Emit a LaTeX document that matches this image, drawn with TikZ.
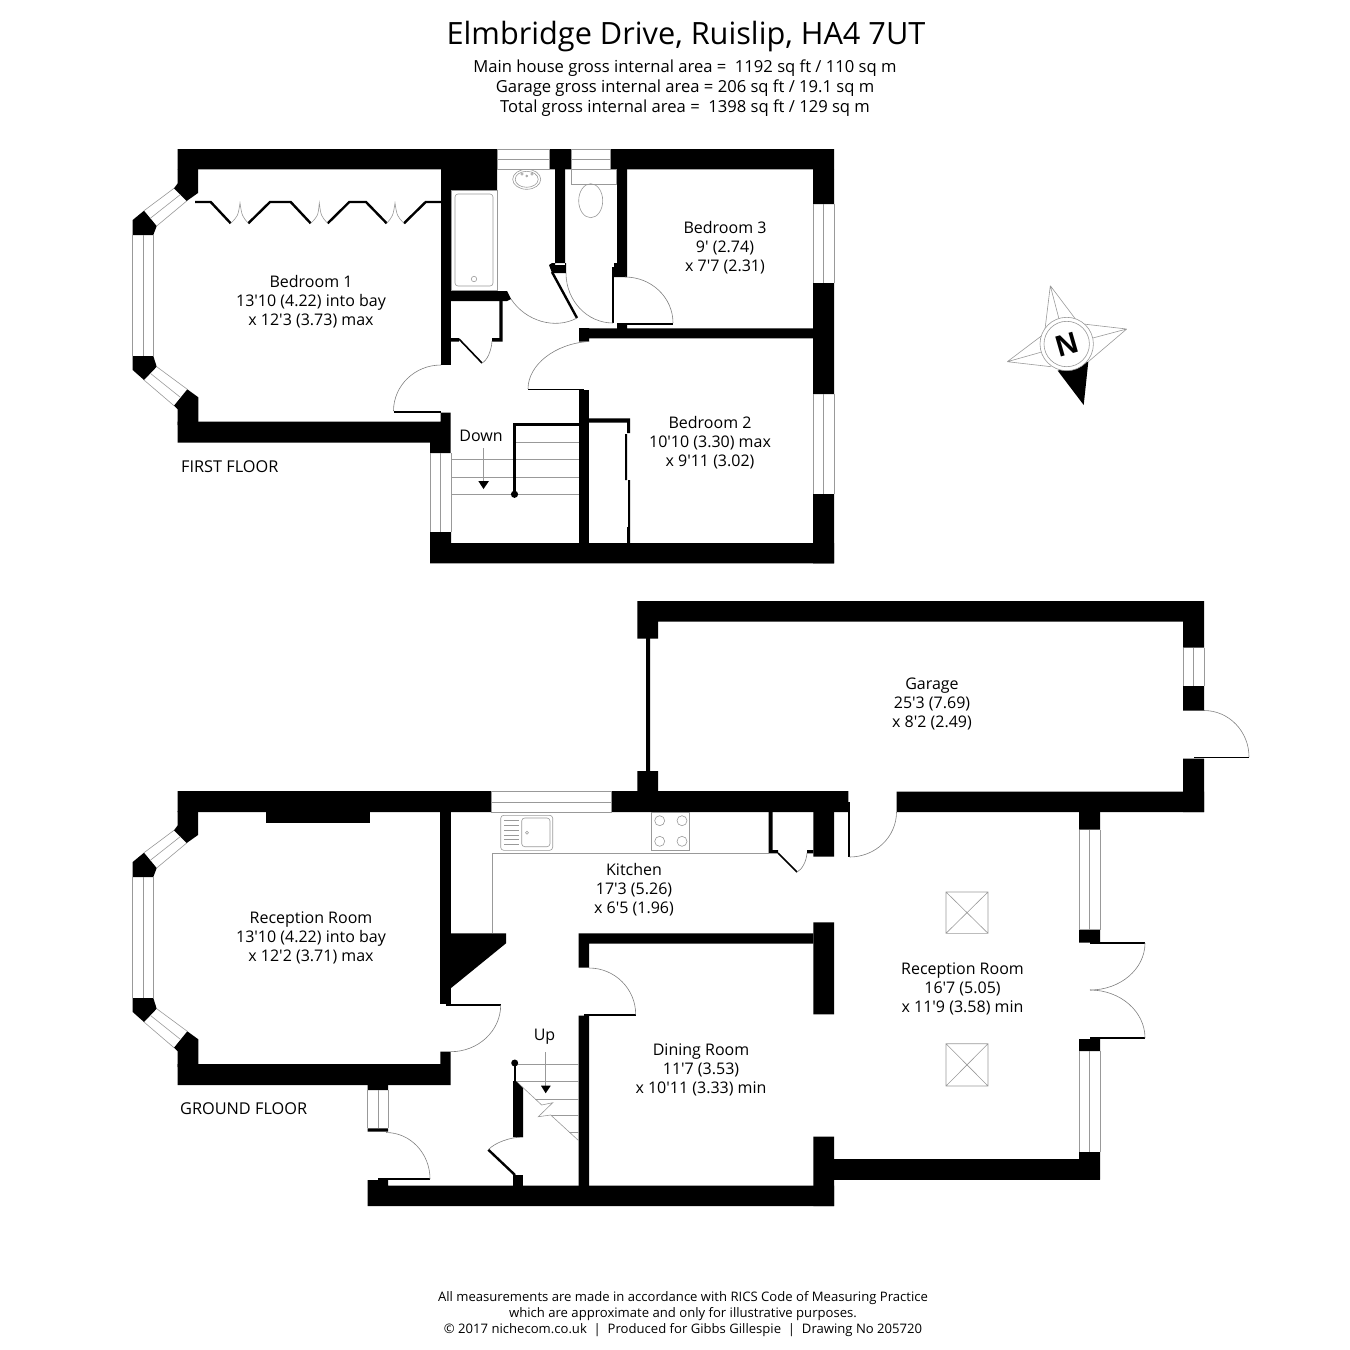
\documentclass[tikz,border=0pt]{standalone}
\usepackage{fontspec}
\usepackage{tikz}
\usetikzlibrary{calc}
\newfontfamily\planfont{Open Sans}
\newfontfamily\compassfont{Liberation Sans}
\colorlet{mygray}{black!40}

\tikzset{
	wall/.style={fill=black},
	fixture/.style={draw=mygray,line width=0.6pt},
	swing/.style={draw=black!50,line width=0.6pt},
	leaf/.style={draw=black,line width=2.4pt},
	room/.style={font=\planfont\fontsize{16}{19}\selectfont,align=center,inner sep=0pt},
	floorname/.style={font=\planfont\fontsize{16.3}{19}\selectfont,anchor=west,inner sep=0pt}
}

% door swing: start, corner, end
\newcommand{\doorarc}[3]{\draw[swing] (#1) .. controls ($(#1)!0.5523!(#2)$) and ($(#3)!0.5523!(#2)$) .. (#3);}

% the bay, same on both floors
\newcommand{\baywall}{
	\fill[wall] (177.7,183.3) -- (174,188.3) -- (186.7,201) -- (198,193) -- (198,169) -- (177.7,169) -- cycle;
	\fill[wall] (144,210.7) -- (132.7,220) -- (132.7,235) -- (153.3,235) -- (156.7,226) -- cycle;
	\fill[wall] (132.7,356) -- (153.3,356) -- (156.7,366.7) -- (144,380) -- (132.7,370) -- cycle;
	\fill[wall] (187.3,389.3) -- (198.3,397.3) -- (198.3,425) -- (177.7,425) -- (177.7,409.3) -- (174,405.7) -- cycle;
	% bay windows
	\draw[fixture] (174,188.3) -- (144,210.7) (186.7,201) -- (156.7,226) (180.3,194.6) -- (150.3,218.3);
	\draw[fixture] (132.7,235) -- (132.7,356) (153.3,235) -- (153.3,356) (143,235) -- (143,356);
	\draw[fixture] (144,380) -- (174,405.7) (156.7,366.7) -- (187.3,389.3) (150.3,373.3) -- (180.6,397.5);
}

\begin{document}
\begin{tikzpicture}[x=1pt,y=-1pt]
	\useasboundingbox (0,0) rectangle (1350,1350);

	% title
	\node[font=\planfont\fontsize{30.7}{36}\selectfont,inner sep=0pt] (title) at (686,36.5) {Elmbridge Drive, Ruislip, HA4 7UT};
	\node[font=\planfont\fontsize{16.6}{20}\selectfont,align=center,inner sep=0pt] (areas) at (685,88) {Main house gross internal area = \ 1192 sq ft / 110 sq m\\Garage gross internal area = 206 sq ft / 19.1 sq m\\Total gross internal area = \ 1398 sq ft / 129 sq m};

	%%% first floor
	\baywall
	% top wall and block over bath
	\fill[wall] (177.7,149) rectangle (497,169.3) (441,169) rectangle (497,190);
	\fill[wall] (549,149) rectangle (571,169.3) (610,149) rectangle (834,169.3);
	% right wall
	\fill[wall] (813,169) rectangle (834,204) (813,283) rectangle (834,394) (813,494) rectangle (834,563.3);
	% bottom walls
	\fill[wall] (430,543) rectangle (834,563.3) (430,532) rectangle (451,545);
	\fill[wall] (177.7,421.7) rectangle (450.7,442.7) (430,442) rectangle (450.7,453) (440.5,412.7) rectangle (450.7,425);
	% inner walls
	\fill[wall] (440.7,190) rectangle (450.7,365);
	\fill[wall] (451,291) rectangle (507,301) (507,291) -- (511,299) -- (507,301) -- cycle;
	\fill[wall] (555,169) rectangle (565,265) (549,265) -- (552,263) -- (566,263) -- (566,273) -- (552,273) -- cycle;
	\fill[wall] (617,169) rectangle (627,277) (614,263) rectangle (617,277);
	\fill[wall] (579,328.3) rectangle (813,338.3) (579,328) rectangle (589,341.7) (617,323) rectangle (627,329);
	\fill[wall] (579,390) rectangle (589,543);
	% bedroom 2 cupboard
	\fill[wall] (589,418.3) rectangle (630,422.5) (627,418.3) rectangle (630,433) (625,434) rectangle (627,480) (628,480) rectangle (630,543) (627,527) rectangle (630,543);
	% landing cupboard
	\fill[wall] (499.3,301) rectangle (502.7,341.5) (451,338) rectangle (459,341.5) (492,338) rectangle (502.7,341.5);

	% windows
	\draw[fixture] (497,149) rectangle (549,169) (497,159) -- (549,159);
	\draw[fixture] (571,149) rectangle (610,169) (571,159) -- (610,159);
	\draw[fixture] (834,204) -- (834,283) (813,204) -- (813,283) (823.7,204) -- (823.7,283);
	\draw[fixture] (834,394) -- (834,494) (813,394) -- (813,494) (823.7,394) -- (823.7,494);
	\draw[fixture] (430,453) -- (430,532) (451,453) -- (451,532) (440.7,453) -- (440.7,532);

	% wardrobe doors
	\draw[leaf] (195,202) -- (210.7,202) -- (230.7,223.3) (248.3,223.3) -- (270,202) -- (290.7,202) -- (310.7,223.3) (327.7,223.3) -- (349.3,202) -- (366,202) -- (386.7,223.3) (404,223.3) -- (425.7,202) -- (441,202);
	\draw[fixture] (230.7,223.3) .. controls (238,216) .. (240,203) .. controls (242,216) .. (248.3,223.3);
	\draw[fixture] (310.7,223.3) .. controls (318,216) .. (319.3,203) .. controls (321,216) .. (327.7,223.3);
	\draw[fixture] (386.7,223.3) .. controls (393,216) .. (395,203) .. controls (397,216) .. (404,223.3);

	% doors
	\draw[leaf,line width=1.8pt] (393.5,412) -- (441,412);
	\doorarc{441,365}{393.5,365}{393.5,411}
	\draw[leaf] (552,272) -- (577,318);
	\doorarc{511,299}{537.6,339.4}{577,318}
	\draw[leaf,line width=1.6pt] (613,267) -- (613,323);
	\doorarc{566,273}{566,323}{613,323}
	\draw[leaf,line width=1.6pt] (620,324) -- (673,324);
	\doorarc{625,277}{673,277}{673,323}
	\draw[leaf,line width=1.8pt] (528,389.5) -- (584,389.5);
	\doorarc{589,341.5}{528,345}{528,389}
	\draw[leaf,line width=1.6pt] (459,339) -- (482,363);
	\doorarc{482,363}{491,359}{492,341}

	% bath, basin, toilet
	\draw[fixture] (451,190) rectangle (497,290);
	\draw[fixture,rounded corners=3pt] (455,194) rectangle (493,286);
	\draw[fixture] (474,279) circle (2.7);
	\draw[fixture] (526.7,179.3) ellipse (14 and 10) (526.7,179.3) ellipse (11.5 and 8);
	\draw[fixture] (522,174) circle (1.2) (532,174) circle (1.2) (526.7,176) circle (1);
	\draw[fixture] (571.7,169) rectangle (616.7,184);
	\draw[fixture] (590.7,200.7) ellipse (12 and 17);

	% stairs
	\draw[fixture] (516,442.7) -- (579,442.7) (451,459.7) -- (579,459.7) (451,477.3) -- (579,477.3) (451,494.5) -- (579,494.5);
	\draw[leaf,line width=3pt] (514.8,494) -- (514.8,424.3) -- (579,424.3);
	\fill[wall] (514.5,494.3) circle (3.6);
	\draw[fixture] (483.5,448) -- (483.5,481);
	\fill[wall] (478.3,481) -- (489,481) -- (483.5,489) -- cycle;
	\node[room] (down) at (481,436) {Down};

	% room labels
	\node[room] (bedone) at (311,302) {Bedroom 1\\13'10 (4.22) into bay\\x 12'3 (3.73) max};
	\node[room] (bedthree) at (725,247.5) {Bedroom 3\\9' (2.74)\\x 7'7 (2.31)};
	\node[room] (bedtwo) at (710,443) {Bedroom 2\\10'10 (3.30) max\\x 9'11 (3.02)};
	\node[floorname] (firstfloor) at (181,466.5) {FIRST FLOOR};

	% compass
	\fill[black] (1057.7,370.7) -- (1083.7,405) -- (1088.3,361.7) -- cycle;
	\draw[fixture] (1050.3,285.7) -- (1045,329.3) (1050.3,285.7) -- (1059,319) (1050.3,285.7) -- (1076.7,320.7);
	\draw[fixture] (1126.7,329) -- (1083.3,324) (1126.7,329) -- (1091.7,338.3) (1126.7,329) -- (1088.3,361.7);
	\draw[fixture] (1007.3,361.7) -- (1041.7,335.7) (1007.3,361.7) -- (1040.7,352.3) (1007.3,361.7) -- (1051,366.7);
	\draw[fixture,fill=white] (1066.7,344) circle (26.7);
	\draw[fixture] (1066.7,344) circle (22.7);
	\node[font=\compassfont\bfseries\fontsize{30}{30}\selectfont,rotate=16,inner sep=0pt] (north) at (1067,345) {N};

	%%% garage
	\fill[wall] (637.3,601) rectangle (1204,621.7) (637.3,601) rectangle (658,638.7) (1183,601) rectangle (1204,647.5);
	\fill[wall] (646,638) rectangle (650,772) (637.3,771) rectangle (658,792);
	\fill[wall] (1183,686) rectangle (1204,710.5) (1183,758.5) rectangle (1204,812);
	\draw[fixture] (1204,647.5) -- (1204,686) (1183,647.5) -- (1183,686) (1193.7,647.5) -- (1193.7,686);
	\draw[leaf,line width=1.6pt] (1194,757.4) -- (1249,757.4);
	\doorarc{1204,710.5}{1249,710.5}{1249,757}
	\node[room] (garage) at (932,704) {Garage\\25'3 (7.69)\\x 8'2 (2.49)};

	%%% ground floor
	\begin{scope}[shift={(0,642)}]
		\baywall
	\end{scope}
	% top wall
	\fill[wall] (177.7,791) rectangle (491,812) (611.7,791) rectangle (848.3,812) (896.7,791.5) rectangle (1204,812);
	\fill[wall] (266,812) rectangle (370,822.5);
	% walls round the reception room on the left
	\fill[wall] (440.3,812) rectangle (450.7,1004);
	\fill[wall] (450.7,933.3) -- (506,933.3) -- (506,943.3) -- (450.7,988.3) -- cycle;
	\fill[wall] (177.7,1064) rectangle (450.7,1085) (440.3,1051.7) rectangle (450.7,1065);
	% porch
	\fill[wall] (367.7,1085) rectangle (388,1090) (367.7,1128.3) rectangle (388,1131.7);
	\fill[wall] (367.7,1185.7) rectangle (834,1206) (367.7,1180) rectangle (378,1186) (378.3,1178) rectangle (388,1186);
	\draw[fixture] (367.7,1090) -- (367.7,1128.3) (388,1090) -- (388,1128.3) (378,1090) -- (378,1128.3);
	\draw[leaf,line width=1.6pt] (378.3,1179) -- (430,1179);
	\doorarc{386,1132.5}{430,1132.5}{430,1179}
	% dining room walls
	\fill[wall] (578.7,933.3) rectangle (813.3,943.7) (578.7,933.3) rectangle (589,967.7) (578.7,1015.7) rectangle (589,1190);
	\fill[wall] (813.3,812) rectangle (834,856.7) (813.3,922.3) rectangle (834,1014.3) (813.3,1136.7) rectangle (834,1206);
	\fill[wall] (834,1158.5) rectangle (1100,1179.6);
	% right wall and french doors
	\fill[wall] (1079,812) rectangle (1100,829.6) (1079,929.6) rectangle (1100,942.6) (1079,1039) rectangle (1100,1051) (1079,1152) rectangle (1100,1179.6);
	\draw[fixture] (1079,829.6) -- (1079,929.6) (1100,829.6) -- (1100,929.6) (1089.5,829.6) -- (1089.5,929.6);
	\draw[fixture] (1079,1051) -- (1079,1152) (1100,1051) -- (1100,1152) (1089.5,1051) -- (1089.5,1152);
	\draw[leaf,line width=1.8pt] (1090,943.3) -- (1145,943.3) (1090,1038) -- (1145,1038);
	\doorarc{1145,943}{1145,990}{1090,990}
	\doorarc{1090,990}{1145,990}{1145,1038}
	% kitchen window
	\draw[fixture] (491,791) rectangle (611.7,812) (491,802) -- (611.7,802);
	% kitchen cupboard
	\fill[wall] (768.7,812) rectangle (772.7,853.3) (768.7,850) rectangle (778,853.3) (807,850) rectangle (813.3,853.3);
	\draw[leaf,line width=1.6pt] (778,853) -- (797,872);
	\doorarc{797,872}{806,868}{807,853}
	% worktop, sink, hob
	\draw[fixture] (492.5,933.3) -- (492.5,853.3) -- (768.7,853.3);
	\draw[fixture,rounded corners=3pt] (500.7,815.3) rectangle (552.7,850.3) (521.7,818) rectangle (550,846.7);
	\foreach \ypos in {820.7,825.3,830,835,839.5,844}
		\draw[fixture] (504,\ypos) -- (519,\ypos);
	\draw[fixture] (527,832.7) circle (1.5);
	\draw[fixture] (651.7,812) rectangle (689.7,850.7);
	\draw[fixture] (659.7,820.7) circle (5) (682,820.7) circle (5) (659.7,841.3) circle (5) (682,841.3) circle (5);
	% doors
	\draw[leaf,line width=1.8pt] (849.3,802) -- (849.3,857);
	\doorarc{849.5,857}{896.5,857}{896.5,812}
	\draw[leaf,line width=1.6pt] (445.7,1005) -- (500.7,1005);
	\doorarc{500.7,1005}{500.7,1051.7}{450.7,1051.7}
	\draw[leaf,line width=1.6pt] (584,1014.7) -- (635.7,1014.7);
	\doorarc{589,968}{635.7,968}{635.7,1014.5}
	\draw[leaf] (488.3,1149.7) -- (515,1175);
	\doorarc{523,1137}{500,1137}{488.3,1149.7}
	\fill[wall] (513,1175) rectangle (523,1186);
	% stairs
	\draw[fixture] (516,1064.3) -- (579,1064.3) (516,1081.7) -- (579,1081.7) (535,1099.3) -- (579,1099.3) (551,1115.7) -- (579,1115.7) (569,1132) -- (579,1132);
	\draw[fixture] (516.7,1081.7) -- (541.7,1105) -- (552.7,1102.7) -- (538.3,1116.7) -- (550.7,1115) -- (578.7,1140.7);
	\fill[wall] (513,1081) -- (516,1081) -- (523,1088) -- (523,1137) -- (513,1137) -- cycle;
	\draw[leaf,line width=2.4pt] (514.7,1063) -- (514.7,1082);
	\fill[wall] (514.7,1063) circle (3.5);
	\draw[fixture] (545.7,1052) -- (545.7,1085.7);
	\fill[wall] (541,1085.7) -- (550.7,1085.7) -- (545.7,1093.3) -- cycle;
	\node[room] (up) at (544.5,1037) {Up};
	% rooflights
	\draw[fixture] (946,892) rectangle (988,933.3) (946,892) -- (988,933.3) (946,933.3) -- (988,892);
	\draw[fixture] (946,1043.7) rectangle (988,1086) (946,1043.7) -- (988,1086) (946,1086) -- (988,1043.7);

	% room labels
	\node[room] (receptone) at (311,938) {Reception Room\\13'10 (4.22) into bay\\x 12'2 (3.71) max};
	\node[room] (kitchen) at (634,890) {Kitchen\\17'3 (5.26)\\x 6'5 (1.96)};
	\node[room] (dining) at (701,1070) {Dining Room\\11'7 (3.53)\\x 10'11 (3.33) min};
	\node[room] (recepttwo) at (962.5,989) {Reception Room\\16'7 (5.05)\\x 11'9 (3.58) min};
	\node[floorname] (groundfloor) at (180,1108.5) {GROUND FLOOR};

	% footer
	\node[font=\planfont\fontsize{13.1}{16}\selectfont,align=center,inner sep=0pt] (footer) at (683,1314.5) {All measurements are made in accordance with RICS Code of Measuring Practice\\which are approximate and only for illustrative purposes.\\\textcopyright{} 2017 nichecom.co.uk \ | \ Produced for Gibbs Gillespie \ | \ Drawing No 205720};
\end{tikzpicture}
\end{document}
